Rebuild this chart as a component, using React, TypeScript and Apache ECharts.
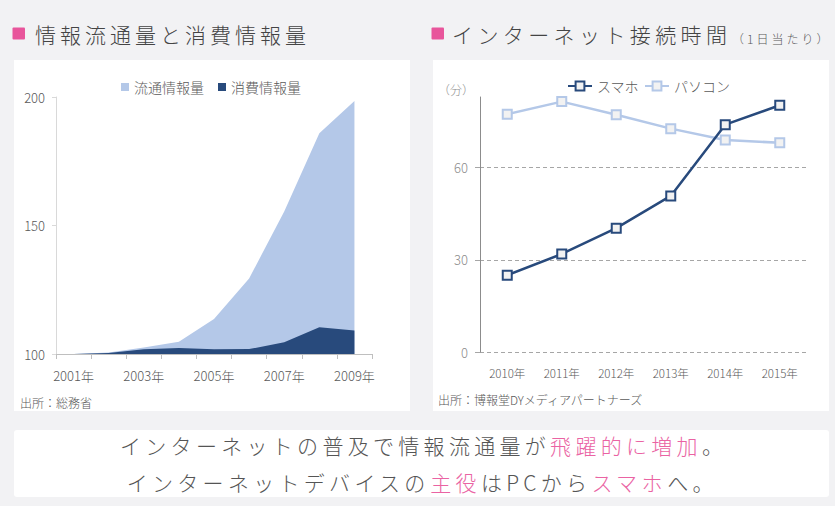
import React, { useEffect, useRef } from 'react';
import * as echarts from 'echarts';

const FONT = '"Noto Sans CJK JP", "Noto Sans", sans-serif';

// ---- Left chart data (情報流通量と消費情報量) ----
const leftYears = ['2001年', '2002年', '2003年', '2004年', '2005年', '2006年', '2007年', '2008年', '2009年'];
const flowVolume = [100, 100.6, 102.5, 104.8, 113.6, 129.4, 155.4, 185.9, 198.4];
const consumedVolume = [100, 100.4, 101.8, 102.3, 101.8, 101.9, 104.6, 110.4, 109.1];

// ---- Right chart data (インターネット接続時間) ----
const rightYears = ['2010年', '2011年', '2012年', '2013年', '2014年', '2015年'];
const smartphoneMinutes = [25.0, 31.9, 40.3, 50.8, 74.0, 80.3];
const pcMinutes = [77.4, 81.5, 77.2, 72.7, 69.0, 68.1];
const rightTickValues = [0, 30, 60];

// ---- Texts ----
const titleLeft = '情報流通量と消費情報量';
const titleRight = 'インターネット接続時間';
const titleRightNote = '（1日当たり）';
const sourceLeft = '出所：総務省';
const sourceRight = '出所：博報堂DYメディアパートナーズ';
const message1: [string, boolean][] = [
  ['インターネットの普及で情報流通量が', false],
  ['飛躍的に増加', true],
  ['。', false],
];
const message2: [string, boolean][] = [
  ['インターネットデバイスの', false],
  ['主役', true],
  ['はPCから', false],
  ['スマホ', true],
  ['へ。', false],
];

const NAVY = '#284a7c';
const LIGHT = '#b4c8e8';
const PINK = '#e8559b';
const WEIGHT = 300;

type Rule = { text: string; size: number; ls: number };

function measure(text: string, size: number) {
  const c = document.createElement('canvas').getContext('2d')!;
  c.font = `${WEIGHT} ${size}px ${FONT}`;
  return c.measureText(text).width;
}

export default function App() {
  const ref = useRef<HTMLDivElement>(null);
  useEffect(() => {
    const el = ref.current!;
    const chart = echarts.init(el, null, { renderer: 'svg' });
    const rules: Rule[] = [];

    const spacedText = (text: string, x: number, y: number, size: number, ls: number, fill: string) => {
      rules.push({ text, size, ls });
      return {
        type: 'text',
        x,
        y,
        z: 10,
        style: { text, fill, fontSize: size, fontWeight: WEIGHT, fontFamily: FONT, align: 'left', verticalAlign: 'middle' },
      };
    };

    const messageLine = (segs: [string, boolean][], x: number, y: number) => {
      const size = 21;
      const ls = 4.3;
      let cx = x;
      const out: any[] = [];
      segs.forEach(([t, pink]) => {
        out.push(spacedText(t, cx, y, size, ls, pink ? '#ea63a3' : '#555555'));
        cx += measure(t, size) + ls * Array.from(t).length;
      });
      return out;
    };

    const graphic: any[] = [
      { type: 'rect', z: -10, shape: { x: 14, y: 60, width: 396, height: 351 }, style: { fill: '#ffffff' } },
      { type: 'rect', z: -10, shape: { x: 433, y: 60, width: 396, height: 351 }, style: { fill: '#ffffff' } },
      { type: 'rect', z: -10, shape: { x: 14, y: 430, width: 815, height: 67, r: 3 }, style: { fill: '#ffffff' } },
      { type: 'rect', z: 10, shape: { x: 12.5, y: 27.5, width: 12.5, height: 12, r: 1 }, style: { fill: PINK } },
      { type: 'rect', z: 10, shape: { x: 431.5, y: 27.5, width: 12.5, height: 12, r: 1 }, style: { fill: PINK } },
      spacedText(titleLeft, 35, 34, 21, 4, '#444444'),
      spacedText(titleRight, 452, 34, 21, 4.4, '#444444'),
      spacedText(titleRightNote, 732, 38, 12, 3, '#595959'),
      { type: 'text', z: 10, x: 20, y: 402, style: { text: sourceLeft, fill: '#595959', fontSize: 12, fontWeight: WEIGHT, fontFamily: FONT, verticalAlign: 'middle' } },
      { type: 'text', z: 10, x: 438, y: 399, style: { text: sourceRight, fill: '#595959', fontSize: 12, fontWeight: WEIGHT, fontFamily: FONT, verticalAlign: 'middle' } },
      ...messageLine(message1, 120, 445),
      ...messageLine(message2, 126.7, 482),
    ];

    const option: any = {
      animation: false,
      backgroundColor: '#f2f2f4',
      textStyle: { fontFamily: FONT },
      graphic,
      legend: [
        {
          left: 116,
          top: 75,
          icon: 'rect',
          itemWidth: 8,
          itemHeight: 8,
          itemGap: 14,
          data: ['流通情報量', '消費情報量'],
          textStyle: { fontSize: 14, color: '#595959', fontWeight: WEIGHT, fontFamily: FONT },
        },
        {
          left: 562,
          top: 74,
          itemWidth: 24,
          itemHeight: 11,
          itemGap: 5,
          data: ['スマホ', 'パソコン'],
          textStyle: { fontSize: 14, color: '#595959', fontWeight: WEIGHT, fontFamily: FONT },
        },
      ],
      grid: [
        { left: 56, top: 97, width: 316, height: 257, outerBoundsMode: 'none', containLabel: false },
        { left: 480, top: 97, width: 327, height: 255, outerBoundsMode: 'none', containLabel: false },
      ],
      xAxis: [
        {
          gridIndex: 0,
          type: 'category',
          data: leftYears,
          boundaryGap: true,
          axisLine: { show: true, lineStyle: { color: '#bfbfbf', width: 1 } },
          axisTick: { show: true, interval: 0, length: 5, lineStyle: { color: '#bfbfbf' } },
          axisLabel: { interval: 1, fontSize: 13, color: '#595959', margin: 15, fontWeight: WEIGHT, fontFamily: FONT },
          splitLine: { show: false },
        },
        {
          gridIndex: 1,
          type: 'category',
          data: rightYears,
          boundaryGap: true,
          axisLine: { show: false },
          axisTick: { show: false },
          axisLabel: { interval: 0, fontSize: 11.5, color: '#595959', margin: 15, fontWeight: WEIGHT, fontFamily: FONT },
          splitLine: { show: false },
        },
      ],
      yAxis: [
        {
          gridIndex: 0,
          type: 'value',
          min: 100,
          max: 200,
          interval: 50,
          axisLine: { show: true, lineStyle: { color: '#d9d9d9', width: 1 } },
          axisTick: { show: true, length: 4, lineStyle: { color: '#d9d9d9' } },
          axisLabel: { fontSize: 13, color: '#595959', margin: 11, fontWeight: WEIGHT, fontFamily: FONT },
          splitLine: { show: false },
        },
        {
          gridIndex: 1,
          type: 'value',
          min: 0,
          max: 83,
          interval: 30,
          name: '（分）',
          nameLocation: 'end',
          nameGap: 8,
          nameTextStyle: { color: '#8c8c8c', fontSize: 12, align: 'right', verticalAlign: 'middle', padding: [0, 6, 0, 0], fontWeight: WEIGHT, fontFamily: FONT },
          axisLine: { show: true, lineStyle: { color: '#8c8c8c', width: 1 } },
          axisTick: { show: true, length: 5, customValues: rightTickValues, lineStyle: { color: '#a6a6a6' } },
          axisLabel: { fontSize: 13, color: '#8c8c8c', margin: 12, customValues: rightTickValues, fontWeight: WEIGHT, fontFamily: FONT },
          splitLine: { show: true, showMaxLine: true, lineStyle: { color: '#a6a6a6', type: [4, 3], width: 1 } },
        },
      ],
      series: [
        {
          name: '流通情報量',
          type: 'line',
          xAxisIndex: 0,
          yAxisIndex: 0,
          data: flowVolume,
          symbol: 'none',
          showSymbol: false,
          lineStyle: { width: 0, color: LIGHT },
          itemStyle: { color: LIGHT },
          areaStyle: { color: LIGHT, opacity: 1, origin: 'start' },
          z: 2,
        },
        {
          name: '消費情報量',
          type: 'line',
          xAxisIndex: 0,
          yAxisIndex: 0,
          data: consumedVolume,
          symbol: 'none',
          showSymbol: false,
          lineStyle: { width: 0, color: NAVY },
          itemStyle: { color: NAVY },
          areaStyle: { color: NAVY, opacity: 1, origin: 'start' },
          z: 3,
        },
        {
          name: 'スマホ',
          type: 'line',
          xAxisIndex: 1,
          yAxisIndex: 1,
          data: smartphoneMinutes,
          symbol: 'rect',
          symbolSize: 9,
          lineStyle: { color: NAVY, width: 2.5 },
          itemStyle: { color: '#f2f2f2', borderColor: NAVY, borderWidth: 2 },
          z: 4,
        },
        {
          name: 'パソコン',
          type: 'line',
          xAxisIndex: 1,
          yAxisIndex: 1,
          data: pcMinutes,
          symbol: 'rect',
          symbolSize: 9,
          lineStyle: { color: LIGHT, width: 2.5 },
          itemStyle: { color: '#f2f2f2', borderColor: LIGHT, borderWidth: 2 },
          z: 3,
        },
      ],
    };

    const applySpacing = () => {
      el.querySelectorAll('text').forEach((t) => {
        const content = t.textContent || '';
        const fs = parseFloat(getComputedStyle(t).fontSize);
        for (const r of rules) {
          if (r.text === content && Math.abs(r.size - fs) < 0.6) {
            (t as SVGTextElement).style.letterSpacing = r.ls + 'px';
          }
        }
      });
    };

    chart.setOption(option);
    applySpacing();
    chart.on('finished', applySpacing);
    const timer = setTimeout(applySpacing, 50);

    return () => {
      clearTimeout(timer);
      chart.dispose();
    };
  }, []);

  return (
    <div
      ref={ref}
      style={{ position: 'fixed', left: 0, top: 0, width: 835, height: 506 }}
    />
  );
}
